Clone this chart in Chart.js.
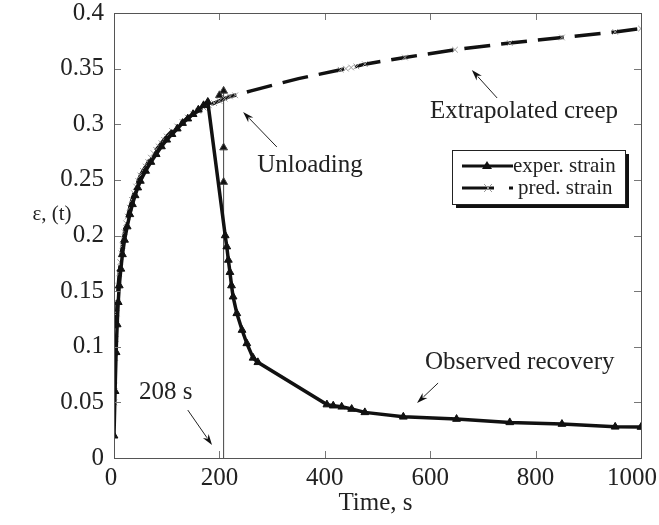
<!DOCTYPE html>
<html>
<head>
<meta charset="utf-8">
<script src="https://cdn.jsdelivr.net/npm/chart.js@4.4.0/dist/chart.umd.min.js"></script>
<style>
  body { margin: 0; background: #fff; }
  #wrap { width: 659px; height: 525px; }
</style>
</head>
<body>
<div id="wrap"><canvas id="creepChart"></canvas></div>
<script>
// tick values
const xTicks = [0, 200, 400, 600, 800, 1000];
const yTicks = [0, 0.05, 0.1, 0.15, 0.2, 0.25, 0.3, 0.35, 0.4];

const seriesLabels = ["exper. strain", "pred. strain"];

// experimental strain (creep, then recovery after unloading)
const experTime = [0, 2, 4, 6, 8, 10, 13, 16, 20, 25, 30, 35, 40, 45, 50, 60, 70, 80, 90, 100,
  110, 120, 130, 140, 150, 160, 170, 178,
  211, 214, 217, 220, 223, 226, 233, 243, 252, 264, 273,
  404, 416, 432, 451, 476, 549, 650, 751, 850, 951, 1000];
const experStrain = [0.02, 0.06, 0.095, 0.12, 0.14, 0.155, 0.17, 0.183, 0.196, 0.208, 0.219, 0.228, 0.236, 0.243, 0.249, 0.258, 0.266, 0.273, 0.28, 0.286,
  0.291, 0.296, 0.301, 0.305, 0.309, 0.313, 0.317, 0.32,
  0.2, 0.19, 0.178, 0.167, 0.155, 0.145, 0.13, 0.115, 0.103, 0.09, 0.086,
  0.048, 0.047, 0.046, 0.044, 0.041, 0.037, 0.035, 0.032, 0.0305, 0.028, 0.0278];

// predicted strain (model + extrapolation)
const predTime = [0.5, 1, 2, 3, 4, 5, 6, 8, 10, 12, 14, 16, 18, 20, 23, 26, 30, 34, 38, 42, 46, 50,
  55, 60, 65, 70, 75, 80, 85, 90, 95, 100, 110, 120, 130, 140, 150, 160, 170, 180, 190, 200,
  210, 220, 230, 260, 300, 350, 430, 440, 450, 460, 476, 552, 647, 751, 850, 951, 1000];
const predStrain = [0.05, 0.065, 0.09, 0.107, 0.12, 0.13, 0.14, 0.155, 0.166, 0.176, 0.184, 0.191, 0.197, 0.203, 0.211, 0.217, 0.225, 0.232, 0.238, 0.244, 0.249, 0.254,
  0.258, 0.262, 0.266, 0.27, 0.274, 0.277, 0.28, 0.283, 0.286, 0.289, 0.294, 0.298, 0.302, 0.306, 0.309, 0.312, 0.315, 0.317, 0.319, 0.321,
  0.323, 0.325, 0.326, 0.33, 0.335, 0.341, 0.349, 0.35, 0.351, 0.352, 0.354, 0.36, 0.367, 0.373, 0.378, 0.383, 0.386];

// unloading at 208 s
const unloadTime = [208, 208, 208, 208, 200];
const unloadStrain = [0, 0.248, 0.279, 0.33, 0.326];

const SERIF = "'Liberation Serif', 'DejaVu Serif', serif";

function toPoints(xs, ys) {
  return xs.map((x, i) => ({ x: x, y: ys[i] }));
}

function drawArrow(ctx, x1, y1, x2, y2) {
  const ang = Math.atan2(y2 - y1, x2 - x1);
  const len = 11, half = 3.5;
  ctx.beginPath();
  ctx.moveTo(x1, y1);
  ctx.lineTo(x2 - Math.cos(ang) * len * 0.8, y2 - Math.sin(ang) * len * 0.8);
  ctx.stroke();
  ctx.beginPath();
  ctx.moveTo(x2, y2);
  ctx.lineTo(x2 - Math.cos(ang) * len - Math.sin(ang) * half, y2 - Math.sin(ang) * len + Math.cos(ang) * half);
  ctx.lineTo(x2 - Math.cos(ang) * len * 0.7, y2 - Math.sin(ang) * len * 0.7);
  ctx.lineTo(x2 - Math.cos(ang) * len + Math.sin(ang) * half, y2 - Math.sin(ang) * len - Math.cos(ang) * half);
  ctx.closePath();
  ctx.fill();
}

const framePlugin = {
  id: "frame",
  afterDraw(chart) {
    const ctx = chart.ctx;
    const area = chart.chartArea;
    const xs = chart.scales.x, ys = chart.scales.y;
    const px = v => xs.getPixelForValue(v);
    const py = v => ys.getPixelForValue(v);

    ctx.save();
    // inner tick marks on all four sides
    ctx.strokeStyle = "#777";
    ctx.lineWidth = 1;
    ctx.beginPath();
    yTicks.forEach(v => {
      const y = Math.round(py(v)) + 0.5;
      ctx.moveTo(area.left, y); ctx.lineTo(area.left + 7, y);
      ctx.moveTo(area.right, y); ctx.lineTo(area.right - 7, y);
    });
    xTicks.forEach(v => {
      const x = Math.round(px(v)) + 0.5;
      ctx.moveTo(x, area.bottom); ctx.lineTo(x, area.bottom - 7);
      ctx.moveTo(x, area.top); ctx.lineTo(x, area.top + 7);
    });
    ctx.stroke();
    ctx.strokeStyle = "#555";
    ctx.strokeRect(Math.round(area.left) + 0.5, Math.round(area.top) + 0.5,
      Math.round(area.right - area.left), Math.round(area.bottom - area.top));

    // x tick labels (last one kept inside the page)
    ctx.fillStyle = "#222";
    ctx.font = "25px " + SERIF;
    ctx.textBaseline = "alphabetic";
    ctx.textAlign = "center";
    xTicks.forEach(v => {
      const label = String(v);
      const w = ctx.measureText(label).width;
      let cx = px(v);
      if (v === 0) cx -= 3;
      if (cx + w / 2 > chart.width - 2) cx = chart.width - 2 - w / 2;
      ctx.fillText(label, cx, area.bottom + 27);
    });

    // axis titles
    ctx.fillText("Time, s", (area.left + area.right) / 2 - 2, area.bottom + 52);
    ctx.font = "21px " + SERIF;
    ctx.fillText("\u03b5, (t)", 52, 220);

    // annotations
    ctx.font = "25px " + SERIF;
    ctx.fillText("Extrapolated creep", px(778), py(0.3056));
    ctx.fillText("Unloading", px(372), py(0.257));
    ctx.fillText("Observed recovery", px(770), py(0.08));
    ctx.fillText("208 s", px(98), py(0.053));

    ctx.strokeStyle = "#222";
    ctx.fillStyle = "#111";
    ctx.lineWidth = 1;
    drawArrow(ctx, px(727), py(0.3236), px(679), py(0.3488));
    drawArrow(ctx, px(309), py(0.2796), px(245), py(0.311));
    drawArrow(ctx, px(615), py(0.0674), px(575), py(0.0494));
    drawArrow(ctx, px(140), py(0.0431), px(186), py(0.0117));

    // legend box with drop shadow
    const lx = area.right - 189, ly = area.top + 137, lw = 173, lh = 54;
    ctx.fillStyle = "#111";
    ctx.fillRect(lx + 4, ly + 4, lw, lh);
    ctx.fillStyle = "#fff";
    ctx.fillRect(lx, ly, lw, lh);
    ctx.strokeStyle = "#222";
    ctx.lineWidth = 1;
    ctx.strokeRect(lx + 0.5, ly + 0.5, lw, lh);

    const ds = chart.data.datasets;
    const rows = [ly + 16, ly + 38];
    // exper. strain sample
    ctx.strokeStyle = "#111";
    ctx.lineWidth = 3;
    ctx.setLineDash([]);
    ctx.beginPath();
    ctx.moveTo(lx + 10, rows[0]); ctx.lineTo(lx + 61, rows[0]);
    ctx.stroke();
    ctx.fillStyle = "#111";
    ctx.beginPath();
    ctx.moveTo(lx + 35, rows[0] - 5); ctx.lineTo(lx + 40, rows[0] + 3); ctx.lineTo(lx + 30, rows[0] + 3);
    ctx.closePath(); ctx.fill();
    // pred. strain sample
    ctx.beginPath();
    ctx.moveTo(lx + 10, rows[1]); ctx.lineTo(lx + 42, rows[1]);
    ctx.moveTo(lx + 57, rows[1]); ctx.lineTo(lx + 61, rows[1]);
    ctx.stroke();
    ctx.strokeStyle = "#999";
    ctx.lineWidth = 1;
    ctx.beginPath();
    ctx.moveTo(lx + 32, rows[1] - 4); ctx.lineTo(lx + 40, rows[1] + 4);
    ctx.moveTo(lx + 32, rows[1] + 4); ctx.lineTo(lx + 40, rows[1] - 4);
    ctx.stroke();

    ctx.fillStyle = "#222";
    ctx.font = "21px " + SERIF;
    ctx.textAlign = "left";
    ctx.textBaseline = "middle";
    ctx.fillText(ds[0].label, lx + 61, rows[0]);
    ctx.fillText(ds[1].label, lx + 66, rows[1]);
    ctx.restore();
  }
};

new Chart(document.getElementById("creepChart"), {
  type: "scatter",
  data: {
    datasets: [
      {
        label: seriesLabels[0],
        data: toPoints(experTime, experStrain),
        showLine: true,
        borderColor: "#111",
        backgroundColor: "#111",
        borderWidth: 3.5,
        pointStyle: "triangle",
        pointRadius: 4.5,
        pointBorderWidth: 1,
        order: 1
      },
      {
        label: seriesLabels[1],
        data: toPoints(predTime, predStrain),
        showLine: true,
        borderColor: "#111",
        borderWidth: 3.5,
        borderDash: [26, 11],
        pointStyle: "crossRot",
        pointBorderColor: "#999",
        pointBorderWidth: 1,
        pointRadius: ctx => {
          const p = ctx.raw;
          return p && p.x > 240 && p.x < 420 ? 0 : 4;
        },
        order: 2
      },
      {
        label: "unloading",
        data: toPoints(unloadTime, unloadStrain),
        showLine: true,
        borderColor: "#444",
        backgroundColor: "#111",
        borderWidth: 1,
        pointStyle: "triangle",
        pointRadius: ctx => (ctx.dataIndex === 0 ? 0 : 4.5),
        order: 3
      }
    ]
  },
  options: {
    responsive: true,
    maintainAspectRatio: false,
    animation: false,
    layout: { padding: { top: 13, right: 18, left: 0, bottom: 0 } },
    plugins: {
      legend: { display: false },
      tooltip: { enabled: false }
    },
    scales: {
      x: {
        type: "linear",
        min: 0,
        max: 1000,
        afterBuildTicks: s => { s.ticks = xTicks.map(v => ({ value: v })); },
        afterFit: s => { s.height = 67; s.paddingLeft = 0; s.paddingRight = 0; },
        grid: { display: false, drawTicks: false },
        border: { display: false },
        ticks: { display: false }
      },
      y: {
        min: 0,
        max: 0.4,
        afterBuildTicks: s => { s.ticks = yTicks.map(v => ({ value: v })); },
        afterFit: s => { s.width = 114; s.paddingTop = 0; s.paddingBottom = 0; },
        grid: { display: false, drawTicks: false },
        border: { display: false },
        ticks: {
          padding: 10,
          color: "#222",
          font: { family: SERIF, size: 25 },
          callback: v => String(+v.toFixed(2))
        }
      }
    }
  },
  plugins: [framePlugin]
});
</script>
</body>
</html>
